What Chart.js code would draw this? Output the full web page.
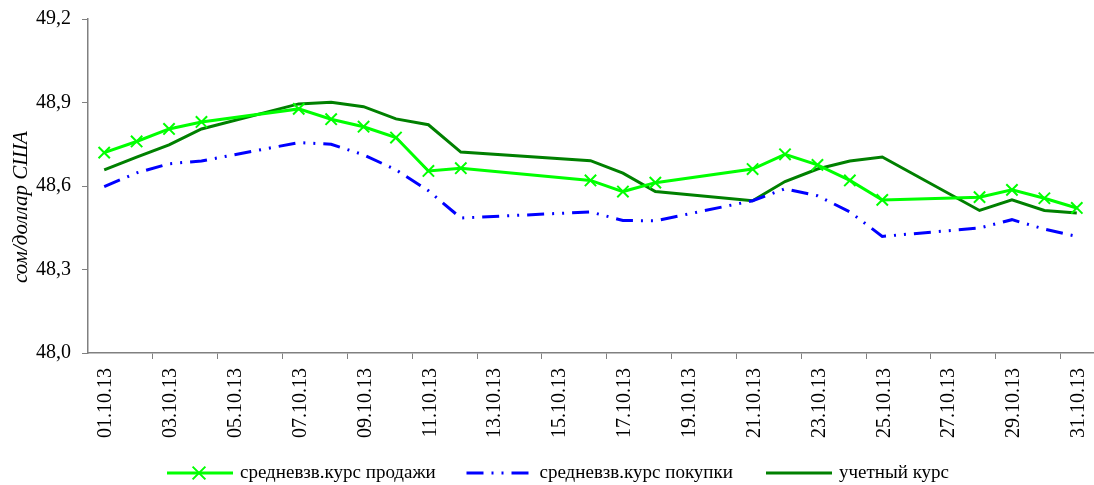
<!DOCTYPE html>
<html>
<head>
<meta charset="utf-8">
<script src="https://cdn.jsdelivr.net/npm/chart.js@4.4.1/dist/chart.umd.min.js"></script>
<style>
  html, body { margin: 0; padding: 0; background: #fff; }
  #wrap { width: 1094px; height: 485px; }
</style>
</head>
<body>
<div id="wrap"><canvas id="rates"></canvas></div>
<script>
const days = [
  '01.10.13', '02.10.13', '03.10.13', '04.10.13', '05.10.13', '06.10.13', '07.10.13', '08.10.13',
  '09.10.13', '10.10.13', '11.10.13', '12.10.13', '13.10.13', '14.10.13', '15.10.13', '16.10.13',
  '17.10.13', '18.10.13', '19.10.13', '20.10.13', '21.10.13', '22.10.13', '23.10.13', '24.10.13',
  '25.10.13', '26.10.13', '27.10.13', '28.10.13', '29.10.13', '30.10.13', '31.10.13'
];

// средневзв.курс продажи
const sellRate = [
  48.720, 48.760, 48.805, 48.830, null, null, 48.877, 48.840,
  48.813, 48.774, 48.654, 48.664, null, null, null, 48.620,
  48.580, 48.612, null, null, 48.661, 48.714, 48.676, 48.620,
  48.550, null, null, 48.560, 48.586, 48.556, 48.521
];

// средневзв.курс покупки
const buyRate = [
  48.598, 48.647, 48.680, 48.690, null, null, 48.756, 48.750,
  48.712, 48.658, 48.583, 48.485, null, null, null, 48.507,
  48.476, 48.475, null, null, 48.547, 48.590, 48.565, 48.507,
  48.419, null, null, 48.449, 48.479, 48.445, 48.419
];

// учетный курс
const officialRate = [
  48.658, 48.704, 48.748, 48.805, null, null, 48.895, 48.901,
  48.885, 48.841, 48.820, 48.722, null, null, null, 48.691,
  48.646, 48.580, null, null, 48.547, 48.616, 48.661, 48.690,
  48.704, null, null, 48.512, 48.550, 48.512, 48.503
];

const yTicks = [48.0, 48.3, 48.6, 48.9, 49.2];
const yTitle = 'сом/доллар США';

const serif = "'Liberation Serif', 'Times New Roman', serif";
const axisGray = '#808080';

// y title + legend under the axis labels (line sample + marker + text)
const extras = {
  id: 'extras',
  afterDraw(chart) {
    const ctx = chart.ctx;
    ctx.save();
    ctx.fillStyle = '#000';
    ctx.font = 'italic 21px ' + serif;
    ctx.textAlign = 'center';
    ctx.textBaseline = 'middle';
    ctx.translate(21, 207);
    ctx.rotate(-Math.PI / 2);
    ctx.fillText(yTitle, 0, 0);
    ctx.restore();

    const y = 473;
    ctx.save();
    chart.data.datasets.forEach((ds, i) => {
      const x0 = 167 + i * 299.5;
      ctx.beginPath();
      ctx.strokeStyle = ds.borderColor;
      ctx.lineWidth = ds.borderWidth;
      ctx.setLineDash(ds.borderDash || []);
      ctx.moveTo(x0, y);
      ctx.lineTo(x0 + 66, y);
      ctx.stroke();
      ctx.setLineDash([]);
      if (ds.pointRadius > 0) {
        const r = ds.pointRadius * 0.8;
        const cx = x0 + 32;
        ctx.lineWidth = ds.pointBorderWidth;
        ctx.beginPath();
        ctx.moveTo(cx - r, y - r);
        ctx.lineTo(cx + r, y + r);
        ctx.moveTo(cx + r, y - r);
        ctx.lineTo(cx - r, y + r);
        ctx.stroke();
      }
      ctx.fillStyle = '#000';
      ctx.font = '19px ' + serif;
      ctx.textBaseline = 'middle';
      ctx.textAlign = 'left';
      ctx.fillText(ds.label, x0 + 73, y);
    });
    ctx.restore();
  }
};

new Chart(document.getElementById('rates'), {
  type: 'line',
  data: {
    labels: days,
    datasets: [
      {
        label: 'средневзв.курс продажи',
        data: sellRate,
        borderColor: '#00ff00',
        backgroundColor: '#00ff00',
        borderWidth: 3,
        pointStyle: 'crossRot',
        pointRadius: 8,
        pointBorderWidth: 2,
        pointBorderColor: '#00ff00',
        spanGaps: true,
        tension: 0
      },
      {
        label: 'средневзв.курс покупки',
        data: buyRate,
        borderColor: '#0000ff',
        backgroundColor: '#0000ff',
        borderWidth: 3,
        borderDash: [17, 8, 2, 8, 2, 8],
        pointRadius: 0,
        spanGaps: true,
        tension: 0
      },
      {
        label: 'учетный курс',
        data: officialRate,
        borderColor: '#008000',
        backgroundColor: '#008000',
        borderWidth: 3,
        pointRadius: 0,
        spanGaps: true,
        tension: 0
      }
    ]
  },
  options: {
    responsive: true,
    maintainAspectRatio: false,
    animation: false,
    layout: { autoPadding: false, padding: { top: 19, right: 1, bottom: 40, left: 0 } },
    plugins: {
      legend: { display: false },
      tooltip: { enabled: false }
    },
    scales: {
      x: {
        offset: true,
        grid: {
          offset: true,
          drawOnChartArea: false,
          tickLength: 6,
          color: ctx => (ctx.index > 0 && ctx.index % 2 === 0) ? axisGray : 'rgba(0,0,0,0)'
        },
        border: { color: axisGray, width: 1.5 },
        ticks: {
          autoSkip: false,
          minRotation: 90,
          maxRotation: 90,
          padding: 9,
          labelOffset: 2,
          color: '#000',
          font: { family: serif, size: 20 },
          callback: (v, i) => (i % 2 === 0 ? days[i] : '')
        },
        afterFit: s => {
          s.height = 92;
          s.paddingLeft = 0;
          s.paddingRight = 0;
        }
      },
      y: {
        min: yTicks[0],
        max: yTicks[yTicks.length - 1],
        afterBuildTicks: s => { s.ticks = yTicks.map(v => ({ value: v })); },
        grid: { drawOnChartArea: false, tickLength: 6, color: axisGray },
        border: { color: axisGray, width: 1.5 },
        ticks: {
          padding: 11,
          color: '#000',
          font: { family: serif, size: 20 },
          callback: v => v.toFixed(1).replace('.', ',')
        },
        afterFit: s => {
          s.width = 88;
          s.paddingTop = 0;
          s.paddingBottom = 0;
        }
      }
    }
  },
  plugins: [extras]
});
</script>
</body>
</html>
